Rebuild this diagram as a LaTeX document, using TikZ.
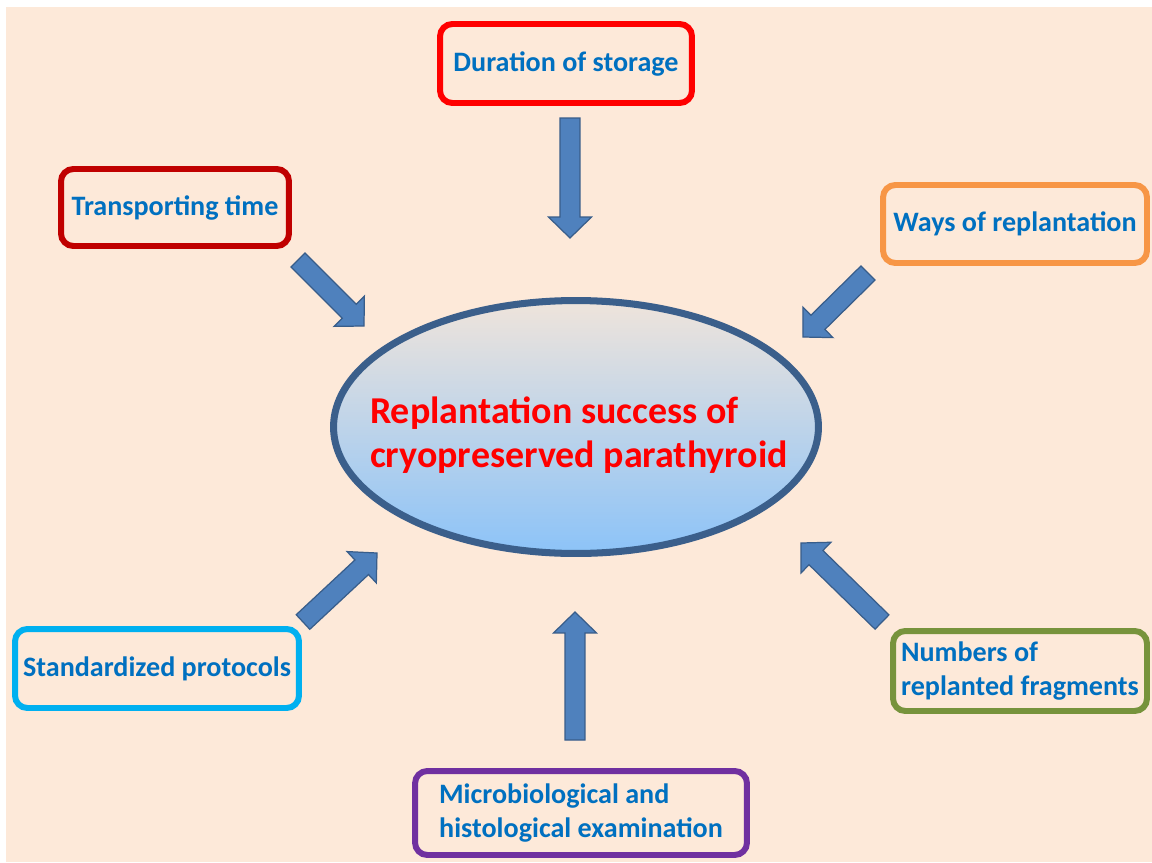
\documentclass[tikz,border=0pt]{standalone}
\usepackage{fontspec}
\setmainfont{Carlito}
\usepackage{tikz}
\usetikzlibrary{calc}
\usetikzlibrary{shapes.geometric}
\definecolor{bgpeach}{HTML}{FDE9D9}
\definecolor{txtblue}{HTML}{0070C0}
\definecolor{arrowfill}{HTML}{4F81BD}
\definecolor{arrowedge}{HTML}{385D8A}
\definecolor{ovaltop}{HTML}{EFE4DB}
\definecolor{ovalmid}{HTML}{BBD5EF}
\definecolor{ovalbot}{HTML}{8CC3F8}
\definecolor{ovaledge}{HTML}{3B5F8B}
\definecolor{durred}{HTML}{FF0000}
\definecolor{transred}{HTML}{C00000}
\definecolor{waysorange}{HTML}{F79646}
\definecolor{stdcyan}{HTML}{00B0F0}
\definecolor{numgreen}{HTML}{77933C}
\definecolor{micropurple}{HTML}{7030A0}
\tikzset{% boxes round the oval
        factorbox/.style={draw, line width=3.4pt, rounded corners=7pt,
          fill=bgpeach, text=txtblue, align=left, inner sep=2pt,
          font=\fontsize{16}{19.6}\selectfont\bfseries},
        blockarrow/.style={draw=arrowedge, fill=arrowfill, line width=0.7pt,
          to path={($(\tikztotarget)!11.9pt!(\tikztostart)$) coordinate (hb)
            ($(\tikztostart)!5.67pt!-90:(\tikztotarget)$)
            -- ($(hb)!5.67pt!-90:(\tikztotarget)$)
            -- ($(hb)!12.2pt!-90:(\tikztotarget)$)
            -- (\tikztotarget)
            -- ($(hb)!12.2pt!90:(\tikztotarget)$)
            -- ($(hb)!5.67pt!90:(\tikztotarget)$)
            -- ($(\tikztostart)!5.67pt!90:(\tikztotarget)$) -- cycle}}
        }

\begin{document}
\begin{tikzpicture}[x=0.02cm, y=-0.02cm]
\useasboundingbox (0,0) rectangle (1152,862);
\fill[white] (0,0) rectangle (1152,862);
\fill[bgpeach] (6,7) rectangle (1152,862);

% the oval
\node[ellipse, draw=ovaledge, line width=4pt, inner sep=0pt,
  minimum width=9.7cm, minimum height=5.06cm,
  top color=ovaltop, middle color=ovalmid, bottom color=ovalbot] (succ) at (576,427) {};
\node[text=red, align=left, font=\fontsize{21.6}{25}\selectfont\bfseries] (succtxt) at (579,435)
  {Replantation success of\\cryopreserved parathyroid};

% the factors
\node[factorbox, draw=durred, minimum width=5.04cm, minimum height=1.58cm] (dur) at (566,63.5) {Duration of storage};
\node[factorbox, draw=transred, minimum width=4.56cm, minimum height=1.54cm] (trans) at (175,207.5) {Transporting time};
\node[factorbox, draw=waysorange, minimum width=5.28cm, minimum height=1.56cm] (ways) at (1015,224) {Ways of replantation};
\node[factorbox, draw=stdcyan, minimum width=5.68cm, minimum height=1.58cm] (std) at (157,668.5) {Standardized protocols};
\node[factorbox, draw=numgreen, minimum width=5.08cm, minimum height=1.6cm] (num) at (1020,671) {Numbers of\\replanted fragments};
\node[factorbox, draw=micropurple, minimum width=6.64cm, minimum height=1.68cm] (micro) at (581,813) {Microbiological and\\histological examination};

% block arrows
\coordinate (ardur1) at (570,118);
\coordinate (ardur2) at (570,238);
\coordinate (artrans1) at (298,260);
\coordinate (artrans2) at (364,326);
\coordinate (arways1) at (868,273);
\coordinate (arways2) at (803,337);
\coordinate (arstd1) at (303,622);
\coordinate (arstd2) at (377,553);
\coordinate (arnum1) at (882,622);
\coordinate (arnum2) at (801,543);
\coordinate (armicro1) at (575,740);
\coordinate (armicro2) at (575,612);
\draw[blockarrow] (ardur1) to (ardur2);
\draw[blockarrow] (artrans1) to (artrans2);
\draw[blockarrow] (arways1) to (arways2);
\draw[blockarrow] (arstd1) to (arstd2);
\draw[blockarrow] (arnum1) to (arnum2);
\draw[blockarrow] (armicro1) to (armicro2);
\end{tikzpicture}
\end{document}
